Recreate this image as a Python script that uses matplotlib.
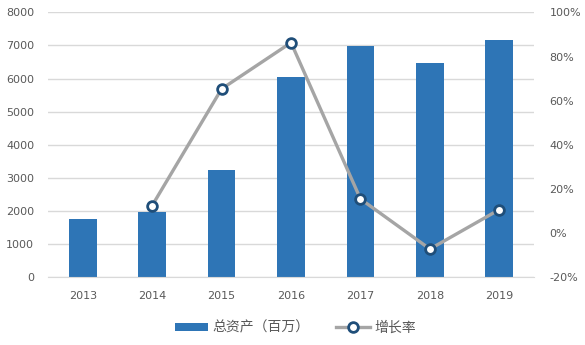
import matplotlib
matplotlib.use("Agg")
import matplotlib.pyplot as plt
from matplotlib.ticker import FuncFormatter
from matplotlib.lines import Line2D
from matplotlib.patches import Patch

plt.rcParams['font.family'] = ['DejaVu Sans', 'Noto Sans CJK SC']

years = ['2013', '2014', '2015', '2016', '2017', '2018', '2019']
assets = [1760, 1970, 3230, 6040, 6980, 6470, 7160]
growth_years = ['2014', '2015', '2016', '2017', '2018', '2019']
growth = [12.4, 65.3, 86.3, 15.4, -7.3, 10.6]

bar_color = '#2E75B6'
line_color = '#A5A5A5'
marker_edge = '#1F4E79'
text_color = '#595959'
grid_color = '#D9D9D9'

fig = plt.figure(figsize=(5.85, 3.45), dpi=100)
ax = fig.add_axes([0.082, 0.197, 0.831, 0.767])
x = list(range(len(years)))
ax.bar(x, assets, width=0.4, color=bar_color, zorder=2)
ax.set_ylim(0, 8000)
ax.set_yticks(range(0, 8001, 1000))
ax.set_xlim(-0.5, len(years) - 0.5)
ax.set_xticks(x)
ax.set_xticklabels(years)
ax.grid(axis='y', color=grid_color, linewidth=1, zorder=0)
for s in ['top', 'right', 'left']:
    ax.spines[s].set_visible(False)
ax.spines['bottom'].set_color(grid_color)
ax.tick_params(axis='both', length=0, colors=text_color, labelsize=8)
ax.tick_params(axis='x', pad=10)
ax.tick_params(axis='y', pad=10)

ax2 = ax.twinx()
gx = [years.index(y) for y in growth_years]
ax2.plot(gx, growth, color=line_color, linewidth=2.4, marker='o', markersize=7,
         markerfacecolor='white', markeredgecolor=marker_edge, markeredgewidth=2, zorder=3)
ax2.set_ylim(-20, 100)
ax2.set_yticks(range(-20, 101, 20))
ax2.yaxis.set_major_formatter(FuncFormatter(lambda v, p: f"{int(v)}%"))
for s in ['top', 'right', 'left', 'bottom']:
    ax2.spines[s].set_visible(False)
ax2.tick_params(axis='y', length=0, colors=text_color, labelsize=8, pad=11)

handles = [Patch(facecolor=bar_color, edgecolor='none'),
           Line2D([0], [0], color=line_color, linewidth=2.4, marker='o', markersize=7,
                  markerfacecolor='white', markeredgecolor=marker_edge, markeredgewidth=2)]
fig.legend(handles, ['总资产（百万）', '增长率'], loc='center', bbox_to_anchor=(0.505, 0.05),
           ncol=2, frameon=False, labelcolor=text_color,
           prop={'family': ['Noto Sans CJK SC'], 'size': 10},
           handlelength=2.4, handleheight=0.5, columnspacing=1.9, handletextpad=0.35)

fig.savefig('out.png', dpi=100)
